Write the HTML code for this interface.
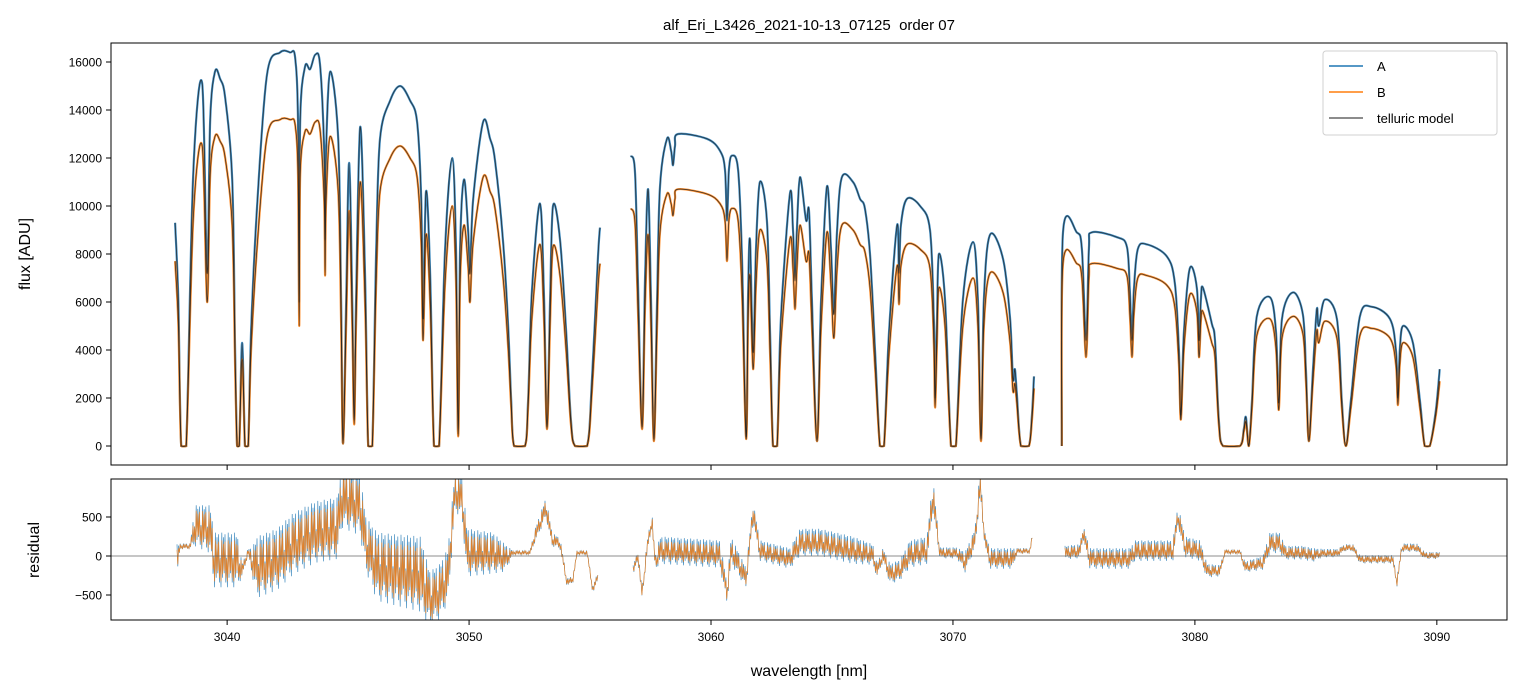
<!DOCTYPE html>
<html><head><meta charset="utf-8"><style>
html,body{margin:0;padding:0;background:#fff;}
svg{display:block;font-family:"Liberation Sans","DejaVu Sans",sans-serif;}
</style></head><body>
<svg id="chart" width="1520" height="696" viewBox="0 0 1520 696">
<defs>
<clipPath id="clipTop"><rect x="111" y="43" width="1396" height="422"/></clipPath>
<clipPath id="clipBot"><rect x="111" y="479" width="1396" height="141"/></clipPath>
</defs>
<text x="809" y="30" text-anchor="middle" font-size="15" fill="#000" style="white-space:pre">alf_Eri_L3426_2021-10-13_07125  order 07</text>
<g id="topMarks" clip-path="url(#clipTop)"></g>
<g id="botMarks" clip-path="url(#clipBot)"></g>
<g id="axes"></g>
<rect x="111" y="43" width="1396" height="422" fill="none" stroke="#000" stroke-width="1"/>
<rect x="111" y="479" width="1396" height="141" fill="none" stroke="#000" stroke-width="1"/>
<text transform="translate(30,254) rotate(-90)" text-anchor="middle" font-size="16">flux [ADU]</text>
<text transform="translate(39,550) rotate(-90)" text-anchor="middle" font-size="16">residual</text>
<text x="809" y="676" text-anchor="middle" font-size="16">wavelength [nm]</text>
<g>
<rect x="1323" y="51" width="174" height="84" rx="3" fill="#fff" fill-opacity="0.85" stroke="#d0d0d0"/>
<line x1="1329" y1="66" x2="1363" y2="66" stroke="#1f77b4" stroke-width="1.5"/>
<text x="1377" y="71" font-size="13">A</text>
<line x1="1329" y1="92" x2="1363" y2="92" stroke="#ff7f0e" stroke-width="1.5"/>
<text x="1377" y="97" font-size="13">B</text>
<line x1="1329" y1="118" x2="1363" y2="118" stroke="#666" stroke-width="1.5"/>
<text x="1377" y="123" font-size="13">telluric model</text>
</g>
</svg>
<script>
const xTicks=[3040,3050,3060,3070,3080,3090];
const yTicksTop=[0,2000,4000,6000,8000,10000,12000,14000,16000];
const yTicksBot=[-500,0,500];

const wl1=[3037.85,3037.98,3038.10,3038.31,3038.60,3038.97,3039.17,3039.30,3039.50,3039.71,3039.92,3040.21,3040.33,3040.41,3040.50,3040.62,3040.74,3040.87,3040.99,3041.24,3041.65,3042.19,3042.60,3042.81,3042.93,3042.98,3043.02,3043.22,3043.43,3043.64,3043.84,3044.01,3044.05,3044.09,3044.26,3044.59,3044.71,3044.79,3044.92,3045.04,3045.17,3045.25,3045.33,3045.50,3045.70,3045.83,3046.00,3046.16,3046.32,3046.74,3047.15,3047.56,3047.85,3048.02,3048.10,3048.22,3048.39,3048.55,3048.76,3049.01,3049.30,3049.46,3049.55,3049.63,3049.79,3049.96,3050.04,3050.17,3050.58,3050.87,3051.07,3051.40,3051.61,3051.74,3051.86,3052.31,3052.44,3052.60,3052.93,3053.10,3053.22,3053.35,3053.47,3053.76,3054.01,3054.21,3054.38,3054.88,3055.08,3055.33,3055.41];
const fluxA1=[9300,6100,0,0,11400,15100,7200,13600,15600,15300,14500,11100,4000,0,0,4300,0,0,4800,10000,15500,16400,16400,16200,13600,6000,13600,15800,15700,16300,15900,12300,8600,12300,15600,12800,6100,100,6100,11800,6100,1100,6100,13300,7200,0,0,8200,12800,14400,15000,14400,13500,10300,5300,10600,7200,0,0,8200,12000,8200,500,8200,11100,9000,7200,10300,13500,12800,11900,8600,5100,1900,0,0,1900,6500,10100,6100,800,6100,10000,8600,4800,1100,0,0,2800,7900,9100];
const fluxB1=[7700,5100,0,0,9500,12500,6000,11300,12900,12700,12000,9200,3300,0,0,3600,0,0,4000,8300,12900,13600,13600,13400,11300,5000,11300,13100,13000,13500,13200,10200,7100,10200,12900,10600,5100,100,5100,9800,5100,900,5100,11000,6000,0,0,6800,10600,12000,12500,12000,11200,8500,4400,8800,6000,0,0,6800,10000,6800,400,6800,9200,7500,6000,8500,11200,10600,9900,7100,4200,1600,0,0,1600,5400,8400,5100,700,5100,8300,7100,4000,900,0,0,2300,6600,7600];

const wl2=[3056.69,3056.86,3056.98,3057.15,3057.27,3057.40,3057.52,3057.64,3057.77,3057.89,3058.18,3058.35,3058.43,3058.51,3058.64,3059.83,3060.37,3060.58,3060.66,3060.74,3060.87,3061.12,3061.28,3061.45,3061.53,3061.61,3061.74,3061.86,3062.02,3062.31,3062.44,3062.56,3062.73,3062.89,3063.26,3063.39,3063.47,3063.55,3063.68,3063.93,3064.05,3064.17,3064.38,3064.55,3064.79,3064.96,3065.08,3065.21,3065.41,3065.87,3066.16,3066.36,3066.57,3066.78,3066.98,3067.15,3067.36,3067.69,3067.77,3067.85,3068.10,3068.64,3069.05,3069.21,3069.26,3069.34,3069.42,3069.67,3069.92,3070.12,3070.41,3070.83,3071.03,3071.16,3071.28,3071.53,3072.07,3072.36,3072.48,3072.56,3072.64,3072.81,3073.14,3073.26,3073.35];
const fluxA2=[12100,11400,6900,800,6900,10700,6100,300,6100,10800,12800,12300,11700,12500,13000,12800,12300,11500,9400,11500,12100,11500,7800,400,6100,8600,3900,8200,11000,9400,4800,0,0,5300,10500,9000,6900,9000,11200,9400,9800,6100,200,6100,10800,8200,5500,9000,11200,11000,10300,9900,8000,4000,0,0,4800,9200,7200,9200,10300,10000,9000,5300,2000,5300,8000,6100,0,0,6100,8500,6100,300,6100,8800,7800,5300,2800,3200,2200,0,0,1200,2900];
const fluxB2=[9900,9300,5700,700,5700,8800,5000,200,5000,8900,10500,10100,9600,10300,10700,10500,10100,9400,7700,9400,9900,9400,6400,300,5000,7100,3200,6700,9000,7700,3900,0,0,4300,8600,7400,5700,7400,9200,7700,8000,5000,200,5000,8900,6700,4500,7400,9200,9000,8400,8100,6600,3300,0,0,3900,7500,5900,7500,8400,8200,7400,4300,1600,4300,6600,5000,0,0,5000,7000,5000,200,5000,7200,6400,4300,2300,2600,1800,0,0,1000,2400];

const wl3=[3074.50,3074.55,3075.12,3075.33,3075.50,3075.62,3075.74,3076.78,3077.19,3077.31,3077.40,3077.48,3077.64,3078.02,3078.84,3079.17,3079.34,3079.42,3079.55,3079.79,3080.08,3080.17,3080.25,3080.33,3080.70,3080.83,3080.99,3081.16,3081.86,3082.02,3082.11,3082.23,3082.36,3082.56,3083.10,3083.35,3083.47,3083.60,3084.05,3084.46,3084.59,3084.71,3084.88,3085.04,3085.12,3085.37,3085.87,3086.07,3086.24,3086.45,3086.82,3087.31,3088.06,3088.31,3088.39,3088.47,3088.60,3089.01,3089.30,3089.50,3089.71,3089.96,3090.12];
const fluxA3=[0,8900,8900,8200,4400,8200,8900,8700,8300,6500,4400,6500,8200,8400,7900,6800,4000,1300,4800,7400,6600,4400,6100,6600,5100,4400,1100,0,0,700,1200,0,1900,5400,6200,4800,1800,5300,6400,5500,3200,200,3200,5700,5000,6100,5300,1900,0,1900,5400,5800,5300,4000,2000,4000,5000,4300,1900,0,0,1500,3200];
const fluxB3=[0,7600,7600,7000,3700,7000,7600,7400,7100,5500,3700,5500,7000,7100,6700,5800,3400,1100,4100,6300,5600,3700,5200,5600,4300,3700,900,0,0,600,1000,0,1600,4600,5300,4100,1500,4500,5400,4700,2700,200,2700,4800,4300,5200,4500,1600,0,1600,4600,4900,4500,3400,1700,3400,4300,3700,1600,0,0,1300,2700];

const resWl1=[3037.93,3038.06,3038.47,3038.68,3039.30,3039.46,3040.41,3040.62,3040.87,3041.03,3041.24,3042.07,3042.73,3043.64,3044.55,3044.75,3045.50,3045.74,3046.20,3047.98,3048.39,3048.80,3049.13,3049.42,3049.71,3049.92,3050.99,3051.49,3051.82,3052.52,3052.73,3053.18,3053.43,3053.76,3054.05,3054.30,3054.46,3054.88,3055.12,3055.33];
const resC1=[-100,120,120,350,300,-100,-100,-200,50,-100,-200,-100,100,250,300,700,600,100,-200,-300,-600,-500,-300,800,700,0,0,-50,40,40,250,600,200,150,-350,-300,40,40,-450,-250];
const resSA1=[250,40,40,300,350,400,400,100,50,200,450,450,450,450,450,450,450,400,500,550,400,400,400,300,300,350,300,200,30,30,100,150,100,80,60,50,30,30,60,60];
const resSB1=[180,30,30,230,270,300,300,80,40,150,340,340,340,340,340,340,340,300,380,420,300,300,300,230,230,260,230,150,25,25,80,120,80,60,45,40,25,25,45,45];

const resWl2=[3056.78,3056.98,3057.15,3057.36,3057.56,3057.69,3057.89,3060.37,3060.66,3060.83,3061.45,3061.74,3062.02,3062.64,3063.26,3063.68,3064.50,3065.87,3066.69,3066.86,3067.11,3067.40,3067.81,3068.22,3068.93,3069.17,3069.46,3070.17,3070.50,3070.91,3071.12,3071.32,3071.53,3072.48,3072.64,3073.18,3073.31];
const resC2=[-200,0,-500,100,450,-100,50,0,-500,50,-300,550,50,0,-50,150,150,50,0,-200,0,-250,-200,0,50,750,30,30,-100,200,900,200,-50,-50,60,60,300];
const resSA2=[80,80,80,100,100,100,200,200,150,200,150,150,150,150,150,200,200,200,150,100,100,150,150,200,200,250,80,80,150,150,200,100,150,150,40,40,60];
const resSB2=[60,60,60,80,80,80,140,140,110,140,110,110,110,110,110,140,140,140,110,80,80,110,110,140,140,190,60,60,110,110,150,80,110,110,30,30,45];

const resWl3=[3074.63,3075.25,3075.37,3075.66,3077.31,3077.52,3079.09,3079.30,3079.59,3080.21,3080.50,3081.03,3081.24,3081.86,3082.07,3082.81,3083.10,3083.51,3083.72,3084.46,3084.88,3085.29,3085.87,3086.20,3086.53,3086.82,3088.18,3088.35,3088.55,3089.17,3089.50,3090.12];
const resC3=[30,50,300,-50,-50,50,50,500,100,50,-200,-200,50,50,-150,-100,150,150,30,30,0,30,30,100,100,-50,-50,-350,100,100,0,0];
const resSA3=[100,100,100,150,150,150,150,150,150,150,100,80,30,30,80,100,150,150,100,100,100,60,60,50,50,60,60,60,60,60,50,50];
const resSB3=[75,75,75,110,110,110,110,110,110,110,75,60,25,25,60,75,110,110,75,75,75,45,45,40,40,45,45,45,45,45,40,40];

const NS='http://www.w3.org/2000/svg';
const X0=111,X1=1507, WMIN=3035.2, WMAX=3092.9;
function xs(w){return X0+(w-WMIN)/(WMAX-WMIN)*(X1-X0);}
function yTop(f){return 446-f*0.024;}
function yBot(r){return 556-r*0.078;}
function mk(tag,attrs,parent){const e=document.createElementNS(NS,tag);for(const k in attrs)e.setAttribute(k,attrs[k]);parent.appendChild(e);return e;}

function smoothPath(px,py){
  let d='M'+px[0].toFixed(1)+','+py[0].toFixed(1);
  for(let i=0;i<px.length-1;i++){
    const p0=i>0?i-1:i,p3=i+2<px.length?i+2:i+1;
    const c1x=px[i]+(px[i+1]-px[p0])/6,c1y=py[i]+(py[i+1]-py[p0])/6;
    const c2x=px[i+1]-(px[p3]-px[i])/6,c2y=py[i+1]-(py[p3]-py[i])/6;
    d+='C'+c1x.toFixed(1)+','+Math.min(c1y,446.5).toFixed(1)+' '+c2x.toFixed(1)+','+Math.min(c2y,446.5).toFixed(1)+' '+px[i+1].toFixed(1)+','+py[i+1].toFixed(1);
  }
  return d;
}
const topG=document.getElementById('topMarks');
const segs=[[wl1,fluxA1,fluxB1],[wl2,fluxA2,fluxB2],[wl3,fluxA3,fluxB3]];
segs.forEach((s,i)=>{
  const px=s[0].map(xs);
  const pA=mk('path',{d:smoothPath(px,s[1].map(yTop)),fill:'none',stroke:'#1f77b4','stroke-width':2.2,'stroke-opacity':0.85},topG);
  
  
  const pB=mk('path',{d:smoothPath(px,s[2].map(yTop)),fill:'none',stroke:'#ff7f0e','stroke-width':2.2,'stroke-opacity':0.85},topG);
  
  
  const mA=mk('path',{d:smoothPath(px,s[1].map(yTop)),fill:'none',stroke:'#222','stroke-width':0.8,'stroke-opacity':0.85},topG);
  
  
  const mB=mk('path',{d:smoothPath(px,s[2].map(yTop)),fill:'none',stroke:'#222','stroke-width':0.8,'stroke-opacity':0.85},topG);
  
  
});

const botG=document.getElementById('botMarks');
const pattern=[1,0.45,0.85,0.3,0.95,0.6,0.2,0.75];
function zig(wl,c,s){
  const x0=xs(wl[0]),x1=xs(wl[wl.length-1]);let d='',k=0,j=0;
  for(let x=x0;x<=x1;x+=0.8,k++){
    while(j<wl.length-2&&xs(wl[j+1])<x)j++;
    const xa=xs(wl[j]),xb=xs(wl[j+1]);const t=Math.max(0,Math.min(1,(x-xa)/(xb-xa||1)));
    const cc=c[j]+(c[j+1]-c[j])*t, ss=s[j]+(s[j+1]-s[j])*t;
    const v=cc+(k%2?-1:1)*ss*pattern[k%pattern.length];
    d+=(d?'L':'M')+x.toFixed(1)+','+yBot(v).toFixed(1);
  }
  return d;
}
[[resWl1,resC1,resSA1,resSB1],[resWl2,resC2,resSA2,resSB2],[resWl3,resC3,resSA3,resSB3]].forEach((r,i)=>{
  const a=mk('path',{d:zig(r[0],r[1],r[2]),fill:'none',stroke:'#1f77b4','stroke-width':0.7,'stroke-opacity':0.85},botG);
  
  
  const b=mk('path',{d:zig(r[0],r[1],r[3]),fill:'none',stroke:'#ff7f0e','stroke-width':0.7,'stroke-opacity':0.85},botG);
  
  
});
const zl=mk('line',{x1:X0,x2:X1,y1:yBot(0),y2:yBot(0),stroke:'#666','stroke-width':0.8},botG);



const ax=document.getElementById('axes');
xTicks.forEach(t=>{
  const x=xs(t);
  const t1=mk('line',{x1:x,x2:x,y1:465,y2:470,stroke:'#000'},ax);
  
  
  const t2=mk('line',{x1:x,x2:x,y1:620,y2:625,stroke:'#000'},ax);
  
  
  const l=mk('text',{x:x,y:641,'text-anchor':'middle','font-size':12},ax);
  l.textContent=t;
  
  
});
yTicksTop.forEach(t=>{
  const y=yTop(t);
  const tk=mk('line',{x1:106,x2:111,y1:y,y2:y,stroke:'#000'},ax);
  
  
  const l=mk('text',{x:102,y:y+4.5,'text-anchor':'end','font-size':12},ax);
  l.textContent=t;
  
  
});
yTicksBot.forEach(t=>{
  const y=yBot(t);
  const tk=mk('line',{x1:106,x2:111,y1:y,y2:y,stroke:'#000'},ax);
  
  
  const l=mk('text',{x:102,y:y+4.5,'text-anchor':'end','font-size':12},ax);
  l.textContent=t<0?'\u2212'+Math.abs(t):t;
  
  
});
</script>
</body></html>
